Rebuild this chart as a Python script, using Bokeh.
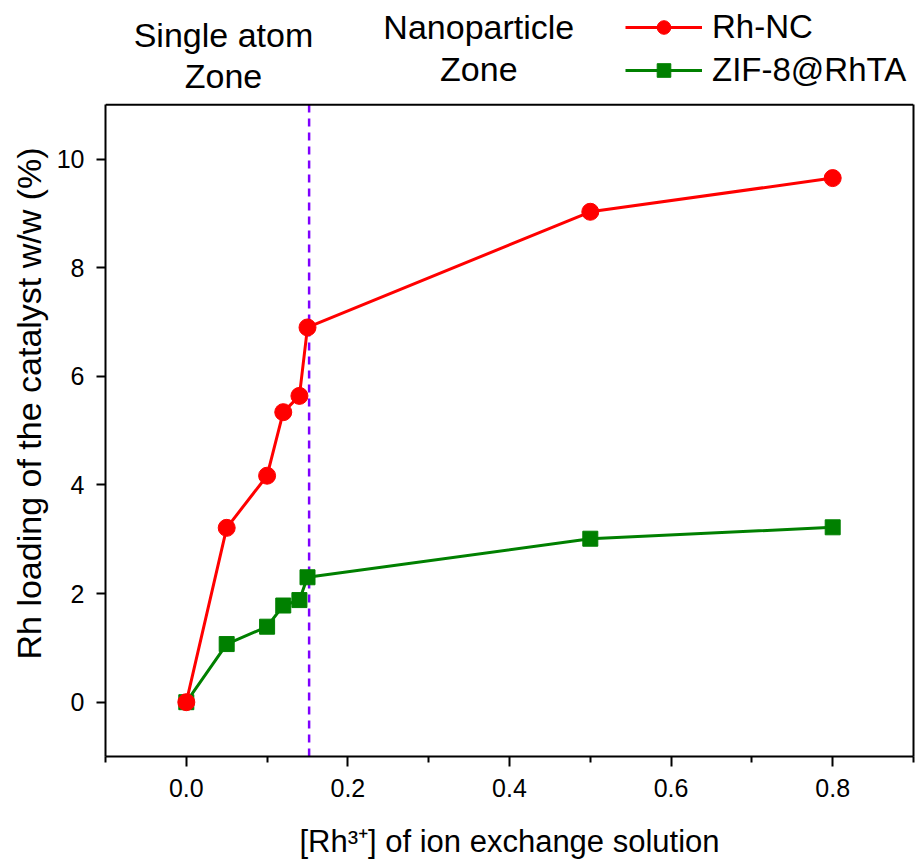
from bokeh.plotting import figure
from bokeh.models import (Label, Legend, LegendItem, FixedTicker, NumeralTickFormatter,
                          Range1d, LinearAxis, Span, Title)
from bokeh.embed import file_html
from bokeh.resources import INLINE

# ---- data ----
conc = [0.0, 0.05, 0.10, 0.12, 0.14, 0.15, 0.50, 0.80]
rh_nc = [0.0, 3.21, 4.17, 5.34, 5.64, 6.90, 9.03, 9.65]
zif_rhta = [0.0, 1.07, 1.39, 1.78, 1.88, 2.30, 3.01, 3.22]
series_names = ["Rh-NC", "ZIF-8@RhTA"]
boundary_x = 0.152
x_lo, x_hi = -0.1, 0.9
y_lo, y_hi = -1.0, 11.0
x_major = [0.0, 0.2, 0.4, 0.6, 0.8]
x_minor = [-0.1, 0.1, 0.3, 0.5, 0.7, 0.9]
y_major = [0, 2, 4, 6, 8, 10]
zone_text = ["Single atom", "Zone", "Nanoparticle", "Zone"]
zone_x = [0.046, 0.046, 0.362, 0.362]
zone_y = [12.28, 11.53, 12.43, 11.65]
x_title = "[Rh³⁺] of ion exchange solution"
y_title = "Rh loading of the catalyst w/w (%)"

FONT = "Liberation Sans"

# the frame reaches the top of the canvas so the zone texts and legend can sit above the box
p = figure(width=915, height=861, output_backend="svg", toolbar_location=None,
           x_range=Range1d(x_lo, x_hi), y_range=Range1d(y_lo, 12.92),
           min_border_left=105, min_border_top=0, min_border_right=2, min_border_bottom=104)
p.background_fill_color = "white"
p.border_fill_color = "white"
p.grid.visible = False
p.outline_line_color = None

# axes
for ax in (p.xaxis[0], p.yaxis[0]):
    ax.axis_line_width = 2
    ax.major_tick_line_width = 2
    ax.minor_tick_line_width = 2
    ax.major_tick_in = 0
    ax.minor_tick_in = 0
    ax.major_label_text_font = FONT
    ax.major_label_text_font_size = "25px"
    ax.major_label_text_color = "black"
    ax.axis_label_text_font = FONT
    ax.axis_label_text_font_style = "normal"
    ax.axis_label_text_color = "black"

p.xaxis.ticker = FixedTicker(ticks=x_major, minor_ticks=x_minor)
p.xaxis.formatter = NumeralTickFormatter(format="0.0")
p.xaxis.major_tick_out = 10
p.xaxis.minor_tick_out = 6
p.xaxis.major_label_standoff = 12
p.xaxis.axis_label = x_title
p.xaxis.axis_label_text_font_size = "31px"
p.xaxis.axis_label_standoff = 24

p.yaxis.ticker = FixedTicker(ticks=y_major, minor_ticks=[])
p.yaxis.bounds = (y_lo, y_hi)
p.yaxis.major_tick_out = 9
p.yaxis.major_label_standoff = 12

# y title as a side title so it can be centred on the box rather than on the whole frame
p.add_layout(Title(text=y_title, align="left", offset=97, standoff=12,
                   text_font=FONT, text_font_size="34px", text_font_style="normal",
                   text_color="black"), "left")

# right edge of the box
rax = LinearAxis(ticker=FixedTicker(ticks=[]), bounds=(y_lo, y_hi), axis_line_width=2,
                 major_tick_out=0, major_tick_in=0, minor_tick_out=0, minor_tick_in=0,
                 major_label_text_alpha=0)
p.add_layout(rax, "right")
# top edge of the box
p.add_layout(Span(location=y_hi, dimension="width", line_color="black", line_width=2))

# boundary between zones
p.segment(x0=[boundary_x], y0=[y_lo], x1=[boundary_x], y1=[y_hi],
          line_color="#7f00ff", line_width=2.5, line_dash="8 6")

# series
g_line = p.line(conc, zif_rhta, line_color="#008000", line_width=3)
g_pts = p.scatter(conc, zif_rhta, marker="square", size=15, fill_color="#008000", line_color="#008000")
r_line = p.line(conc, rh_nc, line_color="#ff0000", line_width=3)
r_pts = p.scatter(conc, rh_nc, marker="circle", size=17, fill_color="#ff0000", line_color="#ff0000")

legend = Legend(items=[LegendItem(label=series_names[0], renderers=[r_line, r_pts]),
                       LegendItem(label=series_names[1], renderers=[g_line, g_pts])],
                location=(520, 667), orientation="vertical",
                glyph_width=77, glyph_height=34, label_height=34, label_standoff=10, spacing=5,
                padding=0, margin=0, border_line_alpha=0, background_fill_alpha=0,
                label_text_font=FONT, label_text_font_size="33px", label_text_color="black")
p.add_layout(legend, "center")

for t, x, y in zip(zone_text, zone_x, zone_y):
    p.add_layout(Label(x=x, y=y, text=t, text_align="center", text_baseline="alphabetic",
                       text_font=FONT, text_font_size="34px", text_color="black"))

open("out.html", "w").write(file_html(p, INLINE))
